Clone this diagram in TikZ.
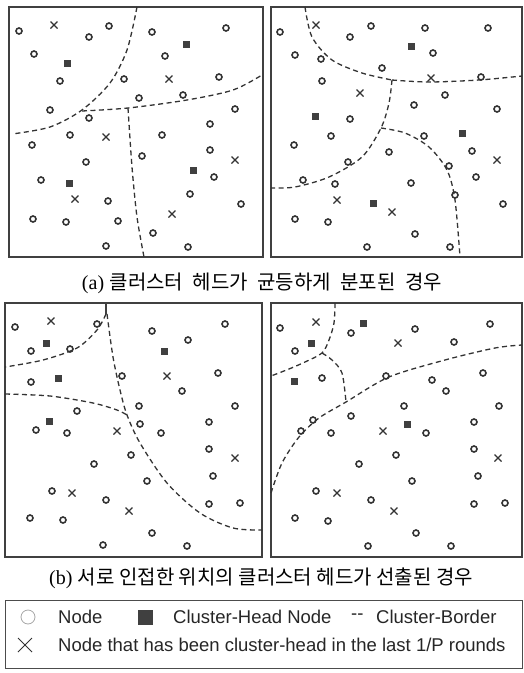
\documentclass[tikz,border=0pt]{standalone}
\usepackage{fontspec}
\setmainfont{Liberation Sans}
\newfontfamily\capserif{Liberation Serif}
\newfontfamily\kr{Noto Sans CJK KR}
\newcommand\wsp{\hspace{5pt} }
\begin{document}
\begin{tikzpicture}[x=1pt,y=-1pt,
  frame/.style={line width=1.4pt,draw=black!75},
  border/.style={dashed,dash pattern=on 5pt off 3.5pt,line width=1.3pt,black!80},
  nd/.style={line width=1.6pt,draw=black!80},
  hd/.style={fill=black!75},
  captext/.style={font=\fontsize{20}{22}\selectfont},
  lg/.style={font=\fontsize{18.5}{20}\selectfont,anchor=west,inner sep=0pt,text=black!85}]
\useasboundingbox (0,0) rectangle (523,673);
% (a) left panel
\draw[frame] (9,7) rectangle (263,257);
\draw[border] plot[smooth] coordinates {(137,7) (127,50) (110,83) (82,110) (50,127) (12,134)};
\draw[border] plot[smooth] coordinates {(82,111) (128,108) (187,100) (233,90) (262,75)};
\draw[border] plot[smooth] coordinates {(128,108) (132,167) (137,217) (144,257)};
\foreach \x/\y in {19/31,89/37,109/26,152/32,226/28,34/54,165/56,60/81,124/79,219/77,183/95,139/98,50/110,235/109,89/118,210/124,70/135,162/135,32/145,210/150,142/156,86/162,214/177,41/180,190/194,108/201,241/204,33/219,66/222,118/221,153/233,106/246,188/247}
  \draw[nd] (\x,\y) circle (3pt);
\foreach \x/\y in {186/44,67/63,193/170,69/183}
  \fill[hd] (\x-3.5,\y-3.5) rectangle ++(7,7);
\foreach \x/\y in {54/25,169/79,106/137,235/160,75/199,172/214}
  \draw[nd,line width=1.3pt] (\x-3.5,\y-3.5) -- ++(7,7) (\x-3.5,\y+3.5) -- ++(7,-7);
% (a) right panel
\draw[frame] (271,7) rectangle (522,257);
\draw[border] plot[smooth] coordinates {(305,7) (312,37) (332,60) (362,73) (392,80)};
\draw[border] plot[smooth] coordinates {(392,80) (429,82) (479,80) (522,76)};
\draw[border] plot[smooth] coordinates {(392,80) (389,103) (381,128) (362,157) (329,177) (295,187) (271,188)};
\draw[border] plot[smooth] coordinates {(381,128) (405,133) (429,147) (447,170) (455,200) (460,257)};
\foreach \x/\y in {280/32,350/37,371/26,425/28,488/28,295/55,321/59,433/53,382/68,481/77,322/81,445/95,414/105,497/109,350/119,331/136,424/136,294/145,389/152,472/151,348/162,449/166,476/177,303/180,335/184,411/183,455/195,503/204,295/219,328/222,415/234,367/247,450/247}
  \draw[nd] (\x,\y) circle (3pt);
\foreach \x/\y in {411/46,315/116,462/133,373/203}
  \fill[hd] (\x-3.5,\y-3.5) rectangle ++(7,7);
\foreach \x/\y in {316/25,431/78,360/93,497/160,337/200,392/212}
  \draw[nd,line width=1.3pt] (\x-3.5,\y-3.5) -- ++(7,7) (\x-3.5,\y+3.5) -- ++(7,-7);
\node[captext] (capa) at (262,283) {{\capserif (a)} \kr 클러스터\wsp 헤드가\wsp 균등하게\wsp 분포된\wsp 경우};
% (b) left panel
\draw[frame] (5,303) rectangle (262,557);
\draw[line width=1.3pt,black!75] (106,303) -- (106,314);
\draw[border] plot[smooth] coordinates {(106,314) (97,330) (77,348) (43,360) (5,367)};
\draw[border] plot[smooth] coordinates {(107,314) (113,357) (120,390) (127,415) (140,443) (167,483) (200,513) (233,528) (262,530)};
\draw[border] plot[smooth] coordinates {(5,394) (50,396) (93,403) (117,410) (127,415)};
\foreach \x/\y in {15/327,97/324,31/351,70/349,152/331,188/340,225/324,31/382,122/376,218/373,182/391,139/406,235/406,77/411,140/424,209/422,36/430,67/433,161/433,131/455,209/449,94/464,213/476,147/481,52/491,106/500,209/504,240/503,30/518,63/520,152/533,103/545,187/546}
  \draw[nd] (\x,\y) circle (3pt);
\foreach \x/\y in {46/343,164/351,58/378,49/421}
  \fill[hd] (\x-3.5,\y-3.5) rectangle ++(7,7);
\foreach \x/\y in {51/321,167/376,117/431,235/458,72/493,129/511}
  \draw[nd,line width=1.3pt] (\x-3.5,\y-3.5) -- ++(7,7) (\x-3.5,\y+3.5) -- ++(7,-7);
% (b) right panel
\draw[frame] (271,303) rectangle (522,557);
\draw[border] plot[smooth] coordinates {(335,303) (334,323) (329,340) (322,353) (305,362) (289,369) (271,376)};
\draw[border] plot[smooth] coordinates {(322,353) (332,360) (342,373) (346,402)};
\draw[border] plot[smooth] coordinates {(271,493) (282,463) (299,437) (319,418) (346,402) (389,377) (445,360) (495,348) (522,345)};
\foreach \x/\y in {280/328,351/333,415/329,454/342,490/324,295/351,322/378,386/376,432/380,483/373,446/391,404/406,499/406,313/420,351/416,301/431,331/433,426/433,474/422,396/455,359/464,474/449,478/476,412/481,316/491,371/500,474/504,505/503,295/518,328/521,416/533,368/546,451/546}
  \draw[nd] (\x,\y) circle (3pt);
\foreach \x/\y in {363/323,311/343,294/381,407/424}
  \fill[hd] (\x-3.5,\y-3.5) rectangle ++(7,7);
\foreach \x/\y in {316/322,398/343,383/431,498/458,337/493,394/511}
  \draw[nd,line width=1.3pt] (\x-3.5,\y-3.5) -- ++(7,7) (\x-3.5,\y+3.5) -- ++(7,-7);
\node[captext] (capb) at (261,578) {{\capserif (b)} \kr 서로 인접한 위치의 클러스터 헤드가 선출된 경우};
% legend
\draw[line width=1pt,black!70] (5,600) rectangle (522,668);
\draw[line width=0.8pt,black!35] (28,617) circle (7pt);
\node[lg] (lnode) at (58,617) {Node};
\fill[black!75] (138,610) rectangle (153,625);
\node[lg] (lhead) at (173,617) {Cluster-Head Node};
\node[lg] (ldash) at (351,617) {-{}-};
\node[lg] (lborder) at (376,617) {Cluster-Border};
\draw[line width=1pt,black!80] (18,638) -- (32,652) (18,652) -- (32,638);
\node[lg] (lpast) at (58,645) {Node that has been cluster-head in the last 1/P rounds};
\end{tikzpicture}
\end{document}
